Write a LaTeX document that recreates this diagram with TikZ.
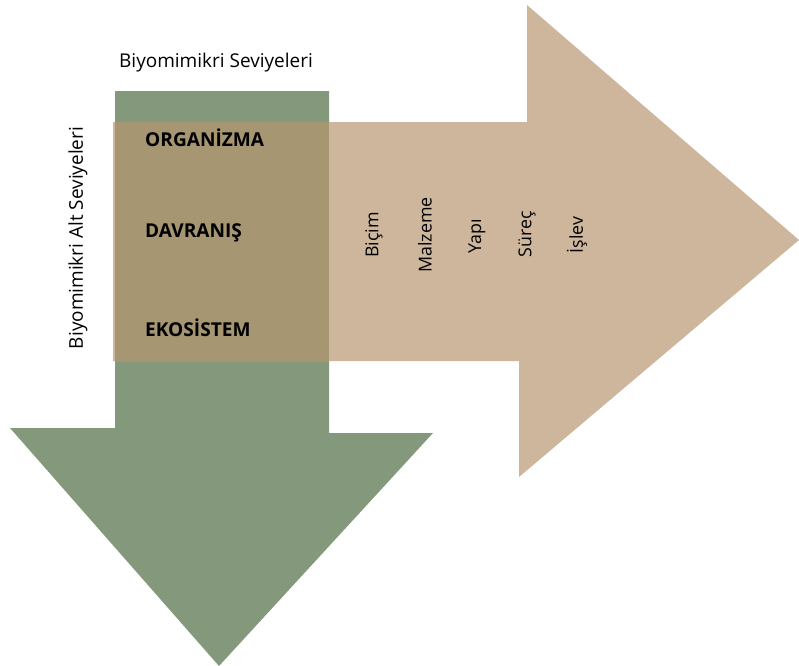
\documentclass[tikz,border=0pt]{standalone}
\usepackage{fontspec}
\setmainfont{Open Sans}
\usepackage{tikz}
\usetikzlibrary{positioning}
\definecolor{yesil}{HTML}{84997C}
\definecolor{bej}{HTML}{CDB69B}
\definecolor{ortak}{HTML}{A69671}
\tikzset{
    seviye/.style={
        font=\fontsize{16.3}{18}\selectfont\bfseries,
        anchor=west,
        inner sep=0pt
    },
    altseviye/.style={
        font=\fontsize{15.2}{17}\selectfont,
        rotate=90,
        inner sep=0pt
    },
    baslik/.style={
        font=\fontsize{16.2}{18}\selectfont,
        inner sep=0pt
    }
}

\begin{document}
\begin{tikzpicture}[
    x=0.03cm,
    y=-0.03cm
]
    \useasboundingbox (0,0) rectangle (799,666);

    % Oklar
    \fill[yesil] (115,91) -- (329,91) -- (329,433) -- (433,433)
        -- (219,666) -- (10,428) -- (115,428) -- cycle;
    \fill[bej] (113,122) -- (527,122) -- (527,5) -- (799,240)
        -- (519,477) -- (519,361) -- (113,361) -- cycle;
    \fill[ortak] (115,122) rectangle (329,361);

    % Basliklar
    \node[baslik]               (ust) at (216,63)    {Biyomimikri Seviyeleri};
    \node[baslik, rotate=90]    (sol) at (78,238)    {Biyomimikri Alt Seviyeleri};

    % Seviyeler
    \node[seviye]               (org) at (145,138)   {ORGANİZMA};
    \node[seviye]               (dav) at (145,233)   {DAVRANIŞ};
    \node[seviye]               (eko) at (145,328)   {EKOSİSTEM};

    % Alt seviyeler
    \node[altseviye]            (bic) at (374,235)   {Biçim};
    \node[altseviye]            (mal) at (425,235)   {Malzeme};
    \node[altseviye]            (yap) at (477,236)   {Yapı};
    \node[altseviye]            (sur) at (527,234)   {Süreç};
    \node[altseviye]            (isl) at (577,235)   {İşlev};

\end{tikzpicture}
\end{document}
